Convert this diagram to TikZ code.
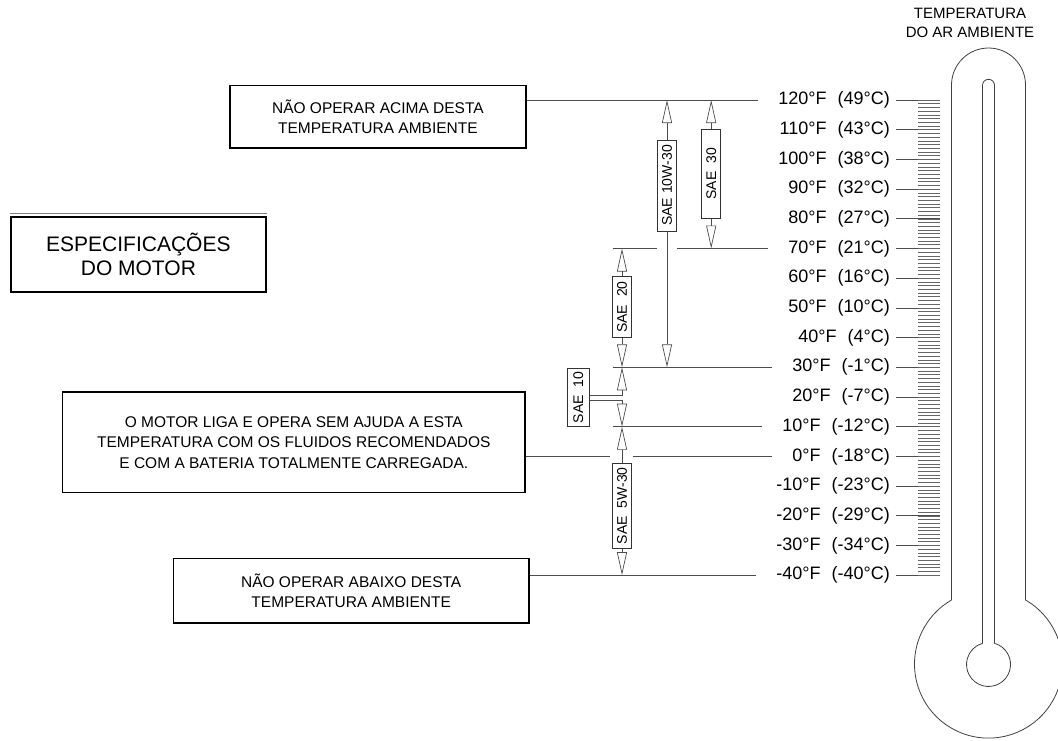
\documentclass[tikz,border=0pt]{standalone}
\usepackage{fontspec}
\setmainfont{Liberation Sans}
\usetikzlibrary{arrows.meta}

\begin{document}
\begin{tikzpicture}[x=1pt,y=-1pt,
lead/.style={draw=black!70,line width=0.7pt},
oil/.style={-{Triangle[open,length=23pt,width=10pt]},draw=black!70,line width=0.7pt},
note/.style n args={2}{draw,line width=1.6pt,minimum width=#1pt,minimum height=#2pt,align=center,inner sep=0pt,font=\fontsize{15.5}{20.5}\selectfont},
sae/.style={draw=black!80,line width=0.7pt,fill=white,rotate=90,minimum width=#1pt,minimum height=19pt,inner sep=1pt,font=\fontsize{14}{15}\selectfont},
temp/.style={anchor=east,inner sep=0pt,font=\fontsize{18}{20}\selectfont},
thermo/.style={draw=black!75,line width=0.8pt}]
\useasboundingbox (0,0) rectangle (1058,740);
% boxes on the left
\node[note={295.7}{62.6}] (maxbox) at (377.9,116.7) {NÃO OPERAR ACIMA DESTA\\TEMPERATURA AMBIENTE};
\node[note={254.7}{75},font=\fontsize{21}{24}\selectfont] (spec) at (138.4,254.2) {ESPECIFICAÇÕES\\DO MOTOR};
\draw[black!50,line width=0.5pt] ([yshift=2.5pt]spec.north west) -- ([yshift=2.5pt]spec.north east);
\node[note={462.5}{100.7}] (startbox) at (293.8,442.2) {O MOTOR LIGA E OPERA SEM AJUDA A ESTA\\TEMPERATURA COM OS FLUIDOS RECOMENDADOS\\E COM A BATERIA TOTALMENTE CARREGADA.};
\node[note={355.6}{64.6}] (minbox) at (351.2,590.7) {NÃO OPERAR ABAIXO DESTA\\TEMPERATURA AMBIENTE};
% scale
\node[align=center,font=\fontsize{15}{18.3}\selectfont] (title) at (970,23) {TEMPERATURA\\DO AR AMBIENTE};
\foreach \f/\c [count=\i from 0] in %
{120/49,110/43,100/38,90/32,80/27,70/21,60/16,50/10,40/4,30/-1,20/-7,10/-12,0/-18,-10/-23,-20/-29,-30/-34,-40/-40} {
   \node[temp] (t\f) at (890,100+29.7*\i) {\f°F\hspace{11pt}(\c°C)};
   \draw[lead] ([xshift=6pt]t\f.east) -- ([xshift=50pt]t\f.east);
}
\foreach \k in {0,...,128} {
   \draw[black!60,line width=0.6pt] (918,100+3.7125*\k) -- (940,100+3.7125*\k);
}
% thermometer
\draw[thermo] (951.5,600) -- (951.5,85) arc[start angle=180,end angle=360,radius=37]
   -- (1025.5,600) arc[start angle=-60,end angle=240,radius=74];
\draw[thermo] (982.5,643.3) -- (982.5,85.3) arc[start angle=180,end angle=360,radius=6]
   -- (994.5,643.3) arc[start angle=-74.2,end angle=254.2,radius=22];
% oil grades
\node[sae=91] (s1030) at (667,185.5) {SAE 10W-30};
\node[sae=89] (s30) at (711.2,173.8) {SAE\ \ 30};
\node[sae=61] (s20) at (622,307) {SAE\ \ 20};
\node[sae=58.4,minimum height=22pt] (s10) at (578.3,397.5) {SAE\ \ 10};
\node[sae=85] (s5w30) at (622,505.8) {SAE\ \ 5W-30};
\coordinate (lx) at (612.7,0);
% leader lines
\draw[lead] (maxbox.east |- t120) -- ([xshift=-20pt]t120.west);
\draw[lead] (lx |- t70) -- ([xshift=-10pt]s1030.west |- t70);
\draw[lead] ([xshift=10pt]s1030.west |- t70) -- ([xshift=-20pt]t70.west);
\draw[lead] (lx |- t30) -- ([xshift=-20pt]t30.west);
\draw[lead] (lx |- t10) -- ([xshift=-20pt]t10.west);
\draw[lead] (startbox.east |- t0) -- ([xshift=-2pt]s5w30.north |- t0);
\draw[lead] ([xshift=1pt]s5w30.south |- t0) -- ([xshift=-20pt]t0.west);
\draw[lead] (minbox.east |- t-40) -- ([xshift=-20pt]t-40.west);
% arrows
\draw[oil] (s1030.east) -- (s1030.east |- t120);
\draw[oil] (s1030.west) -- (s1030.west |- t30);
\draw[oil] (s30.east) -- (s30.east |- t120);
\draw[oil] (s30.west) -- (s30.west |- t70);
\draw[oil] (s20.east) -- (s20.east |- t70);
\draw[oil] (s20.west) -- (s20.west |- t30);
\draw[oil] ([yshift=2.5pt]s10.south) -| (s20.west |- t30);
\draw[oil] ([yshift=-2.5pt]s10.south) -| (s20.west |- t10);
\draw[oil] (s5w30.east) -- (s5w30.east |- t10);
\draw[oil] (s5w30.west) -- (s5w30.west |- t-40);
\end{tikzpicture}
\end{document}
